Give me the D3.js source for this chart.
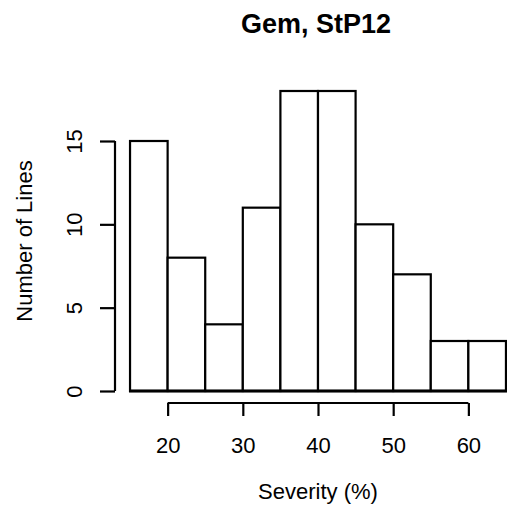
<!DOCTYPE html>
<html>
<head>
<meta charset="utf-8">
<script src="https://cdn.jsdelivr.net/npm/d3@7"></script>
<style>
  html, body { margin: 0; padding: 0; background: #fff; }
  svg { display: block; }
  text { font-family: "Liberation Sans", Arial, sans-serif; fill: #000; }
</style>
</head>
<body>
<script>
// Histogram of severity scores: bin edges and counts per bin
const binStarts = [15, 20, 25, 30, 35, 40, 45, 50, 55, 60];
const binWidth = 5;
const counts = [15, 8, 4, 11, 18, 18, 10, 7, 3, 3];
const xTicks = [20, 30, 40, 50, 60];
const yTicks = [0, 5, 10, 15];
const titleText = "Gem, StP12";
const xLabel = "Severity (%)";
const yLabel = "Number of Lines";

const W = 507, H = 515;
const svg = d3.select("body").append("svg").attr("width", W).attr("height", H);

// Plot region with R-style 4% padding on both axes
const x = d3.scaleLinear().domain([13, 67]).range([115, 521]);
const y = d3.scaleLinear().domain([-0.72, 18.72]).range([403, 79]);

// Bars
svg.append("g").selectAll("rect")
  .data(binStarts.map((s, i) => ({ s, c: counts[i] })))
  .join("rect")
  .attr("x", d => x(d.s))
  .attr("y", d => y(d.c))
  .attr("width", d => x(d.s + binWidth) - x(d.s))
  .attr("height", d => y(0) - y(d.c))
  .attr("fill", "#fff")
  .attr("stroke", "#000")
  .attr("stroke-width", 2.2);

// Heavier baseline under the bars
svg.append("line")
  .attr("x1", x(binStarts[0]) - 1).attr("x2", x(binStarts[binStarts.length - 1] + binWidth) + 1)
  .attr("y1", y(0)).attr("y2", y(0))
  .attr("stroke", "#000").attr("stroke-width", 3.2);

// Bottom axis
const xAxis = svg.append("g").attr("transform", `translate(0,${y(-0.72)})`)
  .call(d3.axisBottom(x).tickValues(xTicks).tickSize(13).tickSizeOuter(0).tickPadding(21));
xAxis.select(".domain").attr("d", `M${x(20)},0H${x(60)}`).attr("stroke-width", 2.2);
xAxis.selectAll(".tick line").attr("stroke-width", 2.2);
xAxis.selectAll("text").attr("font-size", 22).attr("font-family", "Liberation Sans, Arial, sans-serif");

// Left axis with rotated labels
const yAxis = svg.append("g").attr("transform", `translate(${x(13)},0)`)
  .call(d3.axisLeft(y).tickValues(yTicks).tickSize(15).tickSizeOuter(0));
yAxis.select(".domain").attr("d", `M0,${y(0)}V${y(15)}`).attr("stroke-width", 2.2);
yAxis.selectAll(".tick line").attr("stroke-width", 2.2);
yAxis.selectAll(".tick text")
  .attr("x", null).attr("dy", null)
  .attr("transform", "translate(-33,0) rotate(-90)")
  .attr("text-anchor", "middle")
  .attr("font-size", 22)
  .attr("font-family", "Liberation Sans, Arial, sans-serif");

// Titles
svg.append("text").attr("x", 316).attr("y", 33)
  .attr("text-anchor", "middle").attr("font-size", 27).attr("font-weight", "bold")
  .text(titleText);
svg.append("text").attr("x", 318).attr("y", 499)
  .attr("text-anchor", "middle").attr("font-size", 22)
  .text(xLabel);
svg.append("text").attr("transform", `translate(32,${y(9)}) rotate(-90)`)
  .attr("text-anchor", "middle").attr("font-size", 22)
  .text(yLabel);
</script>
</body>
</html>
